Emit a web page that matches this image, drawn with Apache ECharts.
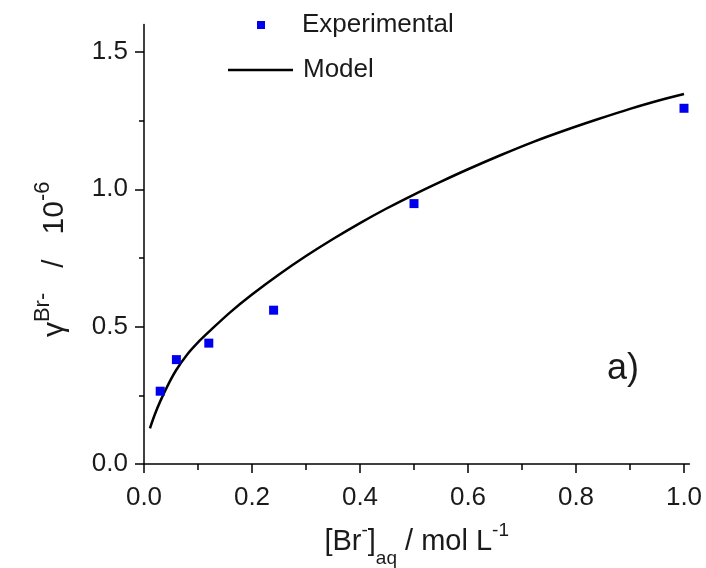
<!DOCTYPE html>
<html>
<head>
<meta charset="utf-8">
<script src="https://cdn.jsdelivr.net/npm/echarts@6/dist/echarts.min.js"></script>
<style>
    html, body { margin: 0; padding: 0; background: #fff; }
    #chart { width: 706px; height: 568px; }
</style>
</head>
<body>
<div id="chart"></div>
<script>
// experimental points
const expX = [0.03, 0.06, 0.12, 0.24, 0.5, 1.0];
const expY = [0.265, 0.38, 0.44, 0.56, 0.948, 1.295];

// model curve
const modelX = [0.011, 0.02, 0.03, 0.045, 0.06, 0.08, 0.1, 0.12, 0.16, 0.2, 0.25, 0.3, 0.35, 0.4, 0.45, 0.5, 0.55, 0.6, 0.66, 0.72, 0.78, 0.84, 0.9, 0.96, 1.0];
const modelY = [0.13, 0.18, 0.228, 0.29, 0.343, 0.399, 0.443, 0.481, 0.553, 0.617, 0.69, 0.757, 0.819, 0.877, 0.931, 0.981, 1.028, 1.073, 1.124, 1.172, 1.215, 1.255, 1.293, 1.327, 1.347];

const xTicks = [0, 0.2, 0.4, 0.6, 0.8, 1.0];
const xMinor = [0.1, 0.3, 0.5, 0.7, 0.9];
const yTicks = [0, 0.5, 1.0, 1.5];
const yMinor = [0.25, 0.75, 1.25];

const chart = echarts.init(document.getElementById('chart'));

const font = 'Liberation Sans, Arial, sans-serif';
const txt = '#1a1a1a';

// rich styles for the axis names (super/subscripts)
const xRich = {
    m: { fontSize: 29, fontFamily: font, color: txt },
    sup: { fontSize: 19, fontFamily: font, color: txt, padding: [0, 0, 22, 0] },
    sub: { fontSize: 19, fontFamily: font, color: txt, padding: [33, 0, 0, 0] }
};
const yRich = {
    m: { fontSize: 30, fontFamily: font, color: txt },
    sup: { fontSize: 22, fontFamily: font, color: txt, padding: [0, 0, 24, 0] }
};

chart.setOption({
    animation: false,
    textStyle: { fontFamily: font },

    grid: { left: 144, right: 16.6, top: 24.5, bottom: 104, containLabel: false, outerBoundsMode: 'none' },

    legend: [
        {
            data: ['Experimental'],
            left: 257,
            top: 12,
            padding: 0,
            itemWidth: 8,
            itemHeight: 8,
            icon: 'rect',
            textStyle: { fontSize: 26, color: txt, padding: [0, 0, 0, 32] }
        },
        {
            data: ['Model'],
            left: 228,
            top: 57,
            padding: 0,
            itemWidth: 65,
            itemHeight: 2.5,
            icon: 'rect',
            textStyle: { fontSize: 26, color: txt, padding: [0, 0, 0, 5] }
        }
    ],

    title: {
        text: 'a)',
        left: 607,
        top: 351,
        padding: 0,
        textStyle: { fontSize: 36, fontWeight: 'normal', color: txt, fontFamily: font }
    },

    xAxis: [{
        type: 'value',
        min: 0,
        max: 1.01,
        name: '{m|[Br}{sup|-}{m|]}{sub|aq}{m| / mol L}{sup|-1}',
        nameLocation: 'middle',
        nameGap: 52,
        nameTextStyle: { rich: xRich },
        splitLine: { show: false },
        axisLine: { lineStyle: { color: '#000', width: 1.5 } },
        axisTick: { show: true, inside: false, length: 9, customValues: xTicks, lineStyle: { color: '#000', width: 1.5 } },
        axisLabel: {
            customValues: xTicks,
            margin: 21,
            fontSize: 26,
            color: txt,
            formatter: v => v.toFixed(1)
        }
    }, {
        type: 'value',
        position: 'bottom',
        min: 0,
        max: 1.01,
        splitLine: { show: false },
        axisLine: { show: false },
        axisTick: { show: true, length: 6, customValues: xMinor, lineStyle: { color: '#000', width: 1.5 } },
        axisLabel: { show: false }
    }],

    yAxis: [{
        type: 'value',
        min: 0,
        max: 1.6,
        name: '{m|γ}{sup|Br-}{m|   /   10}{sup|-6}',
        nameLocation: 'middle',
        nameRotate: 90,
        nameGap: 66,
        nameTextStyle: { rich: yRich, padding: [0, 30, 0, 0] },
        splitLine: { show: false },
        axisLine: { show: true, lineStyle: { color: '#000', width: 1.5 } },
        axisTick: { show: true, inside: false, length: 9, customValues: yTicks, lineStyle: { color: '#000', width: 1.5 } },
        axisLabel: {
            customValues: yTicks,
            margin: 16,
            fontSize: 26,
            color: txt,
            formatter: v => v.toFixed(1)
        }
    }, {
        type: 'value',
        position: 'left',
        min: 0,
        max: 1.6,
        splitLine: { show: false },
        axisLine: { show: false },
        axisTick: { show: true, length: 5, customValues: yMinor, lineStyle: { color: '#000', width: 1.5 } },
        axisLabel: { show: false }
    }],

    series: [
        {
            name: 'Experimental',
            type: 'scatter',
            symbol: 'rect',
            symbolSize: 9,
            itemStyle: { color: '#0000ee', opacity: 1 },
            data: expX.map((x, i) => [x, expY[i]]),
            z: 3
        },
        {
            name: 'Model',
            type: 'line',
            smooth: 0.3,
            showSymbol: false,
            symbol: 'none',
            itemStyle: { color: '#000' },
            lineStyle: { color: '#000', width: 2.5 },
            data: modelX.map((x, i) => [x, modelY[i]]),
            z: 2
        }
    ]
});
</script>
</body>
</html>
